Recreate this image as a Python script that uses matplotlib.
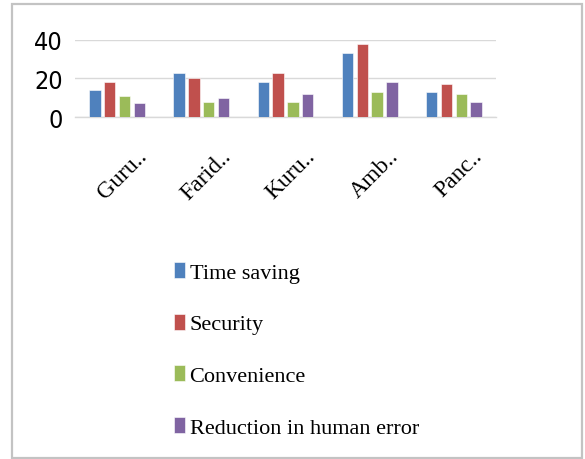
import matplotlib
matplotlib.use("Agg")
import matplotlib.pyplot as plt
import numpy as np
from matplotlib.patches import Rectangle
from matplotlib.font_manager import FontProperties
from matplotlib.transforms import ScaledTranslation

categories = ["Guru..", "Farid..", "Kuru..", "Amb..", "Panc.."]
series_names = ["Time saving", "Security", "Convenience", "Reduction in human error"]
time_saving = [14, 23, 18, 33, 13]
security = [18, 20, 23, 38, 17]
convenience = [11, 8, 8, 13, 12]
human_error = [7, 10, 12, 18, 8]
y_ticks = [0, 20, 40]

colors = ["#4F81BD", "#C0504D", "#9BBB59", "#8064A2"]
serif = ["Liberation Serif", "DejaVu Serif"]
tick_font = FontProperties(family="DejaVu Sans", stretch="condensed", size=18)

W, H = 585, 460
fig = plt.figure(figsize=(W / 100, H / 100), dpi=100)
fig.patch.set_facecolor("white")

# outer chart frame
fig.patches.append(Rectangle((12 / W, 1 - 459 / H), 570 / W, 454 / H,
                             transform=fig.transFigure, fill=False,
                             edgecolor="#c3c3c3", linewidth=1.6))

ax = fig.add_axes([75 / W, 1 - 118 / H, 421 / W, 77.3 / H])
x = np.arange(len(categories))
slot = 0.176
width = 0.135
all_series = [time_saving, security, convenience, human_error]
for i, (vals, name, c) in enumerate(zip(all_series, series_names, colors)):
    ax.bar(x + (i - 1.5) * slot, vals, width, color=c, label=name,
           edgecolor="white", linewidth=0.4, zorder=3)

ax.set_xlim(-0.5, len(categories) - 0.5)
ax.set_ylim(0, 40)
ax.set_yticks(y_ticks)
ax.set_yticklabels([str(v) for v in y_ticks], fontproperties=tick_font)
ax.yaxis.grid(True, color="#d9d9d9", linewidth=1.0, zorder=0)
ax.set_axisbelow(True)
for s in ["top", "right", "left"]:
    ax.spines[s].set_visible(False)
ax.spines["bottom"].set_color("#d9d9d9")
ax.spines["bottom"].set_linewidth(1.0)
ax.tick_params(axis="y", length=0, pad=9)
ax.tick_params(axis="x", length=0, pad=20)
ax.set_xticks(x)
ax.set_xticklabels(categories, family=serif, fontsize=17, rotation=45,
                   ha="center", va="top")
shift = ScaledTranslation(5 / 100, 0, fig.dpi_scale_trans)
for lbl in ax.get_xticklabels():
    lbl.set_transform(lbl.get_transform() + shift)

leg = fig.legend(loc="upper left", bbox_to_anchor=(174 / W, 1 - 263 / H),
                 prop={"family": serif, "size": 16}, frameon=False,
                 handlelength=0.5, handleheight=0.75, handletextpad=0.2,
                 labelspacing=1.38, borderaxespad=0, borderpad=0)

fig.savefig("out.png", dpi=100, facecolor="white")
